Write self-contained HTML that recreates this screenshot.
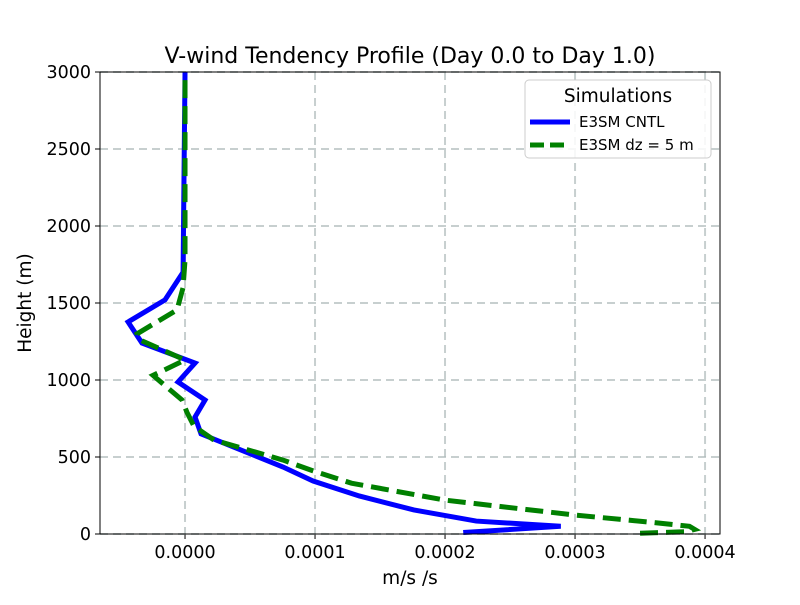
<!DOCTYPE html>
<html><head><meta charset="utf-8"><style>body{margin:0;background:#fff}svg{font-family:"DejaVu Sans","Liberation Sans",sans-serif}</style></head>
<body>
<svg id="chart" width="800" height="600"></svg>
<script>
const xTicks=[0,0.0001,0.0002,0.0003,0.0004];
const xTickLabels=["0.0000","0.0001","0.0002","0.0003","0.0004"];
const yTicks=[0,500,1000,1500,2000,2500,3000];
const cntlHeights=[10,50,84,156,247,344,435,650,760,870,987,1110,1240,1377,1520,1700,3000];
const cntlValues=[0.000214,0.000289,0.000224,0.000176,0.000134,0.0000985,0.0000754,0.0000123,0.0000077,0.0000154,-0.0000054,0.0000077,-0.0000331,-0.0000438,-0.0000154,-0.0000015,0];
const dzHeights=[5,15,30,50,75,123,220,330,410,480,610,700,790,870,1030,1130,1260,1300,1455,1600,1780,3000];
const dzValues=[0.00035,0.000385,0.000392,0.000388,0.00036,0.0003,0.0002,0.000128,0.0000985,0.0000754,0.0000223,0.0000069,0.0000015,-0.0000023,-0.0000246,0,-0.0000346,-0.0000369,-0.0000062,-0.0000015,0,0];
const L=100,R=720,T=72,B=534,xmin=-0.0000654,xmax=0.0004115,ymin=0,ymax=3000;
const X=v=>L+(v-xmin)/(xmax-xmin)*(R-L);
const Y=h=>B-(h-ymin)/(ymax-ymin)*(B-T);
const svg=document.getElementById('chart');
const NS='http://www.w3.org/2000/svg';
function mk(tag,attrs,parent){const e=document.createElementNS(NS,tag);for(const k in attrs)e.setAttribute(k,attrs[k]);(parent||svg).appendChild(e);return e;}
let e;
xTicks.forEach((v,i)=>{
 e=mk('line',{x1:X(v),x2:X(v),y1:T,y2:B,stroke:'#b0bcbc','stroke-width':2,'stroke-dasharray':'8,5',opacity:0.7});
 
 e=mk('line',{x1:X(v),x2:X(v),y1:B,y2:B+5,stroke:'#000'});
 
 e=mk('text',{x:X(v),y:B+24,'text-anchor':'middle','font-size':17.5});e.textContent=xTickLabels[i];
 
});
yTicks.forEach(h=>{
 e=mk('line',{x1:L,x2:R,y1:Y(h),y2:Y(h),stroke:'#b0bcbc','stroke-width':2,'stroke-dasharray':'8,5',opacity:0.7});
 
 e=mk('line',{x1:L-5,x2:L,y1:Y(h),y2:Y(h),stroke:'#000'});
 
 e=mk('text',{x:L-9,y:Y(h)+6,'text-anchor':'end','font-size':17.5});e.textContent=h;
 
});
function pts(vs,hs){return vs.map((v,i)=>X(v)+','+Y(hs[i])).join(' ');}
e=mk('polyline',{points:pts(cntlValues,cntlHeights),fill:'none',stroke:'#0000ff','stroke-width':5});

e=mk('polyline',{points:pts(dzValues,dzHeights),fill:'none',stroke:'#008000','stroke-width':5,'stroke-dasharray':'18,8'});

e=mk('rect',{x:L,y:T,width:R-L,height:B-T,fill:'none',stroke:'#000','stroke-width':1});

e=mk('text',{x:410,y:63,'text-anchor':'middle','font-size':22});e.textContent='V-wind Tendency Profile (Day 0.0 to Day 1.0)';

e=mk('text',{x:410,y:584,'text-anchor':'middle','font-size':18.5});e.textContent='m/s /s';

e=mk('text',{x:31,y:303,'text-anchor':'middle','font-size':18.5,transform:'rotate(-90 31 303)'});e.textContent='Height (m)';

const lg=mk('g',{});

mk('rect',{x:525,y:80,width:186,height:78,rx:4,fill:'#fff',stroke:'#ccc','fill-opacity':0.85},lg);
e=mk('text',{x:618,y:102,'text-anchor':'middle','font-size':18.5},lg);e.textContent='Simulations';

e=mk('line',{x1:530,x2:570,y1:122,y2:122,stroke:'#0000ff','stroke-width':5},lg);

e=mk('text',{x:579,y:127,'font-size':15},lg);e.textContent='E3SM CNTL';

e=mk('line',{x1:530,x2:570,y1:145,y2:145,stroke:'#008000','stroke-width':5,'stroke-dasharray':'14,6'},lg);

e=mk('text',{x:579,y:150,'font-size':15},lg);e.textContent='E3SM dz = 5 m';

</script>
</body></html>
